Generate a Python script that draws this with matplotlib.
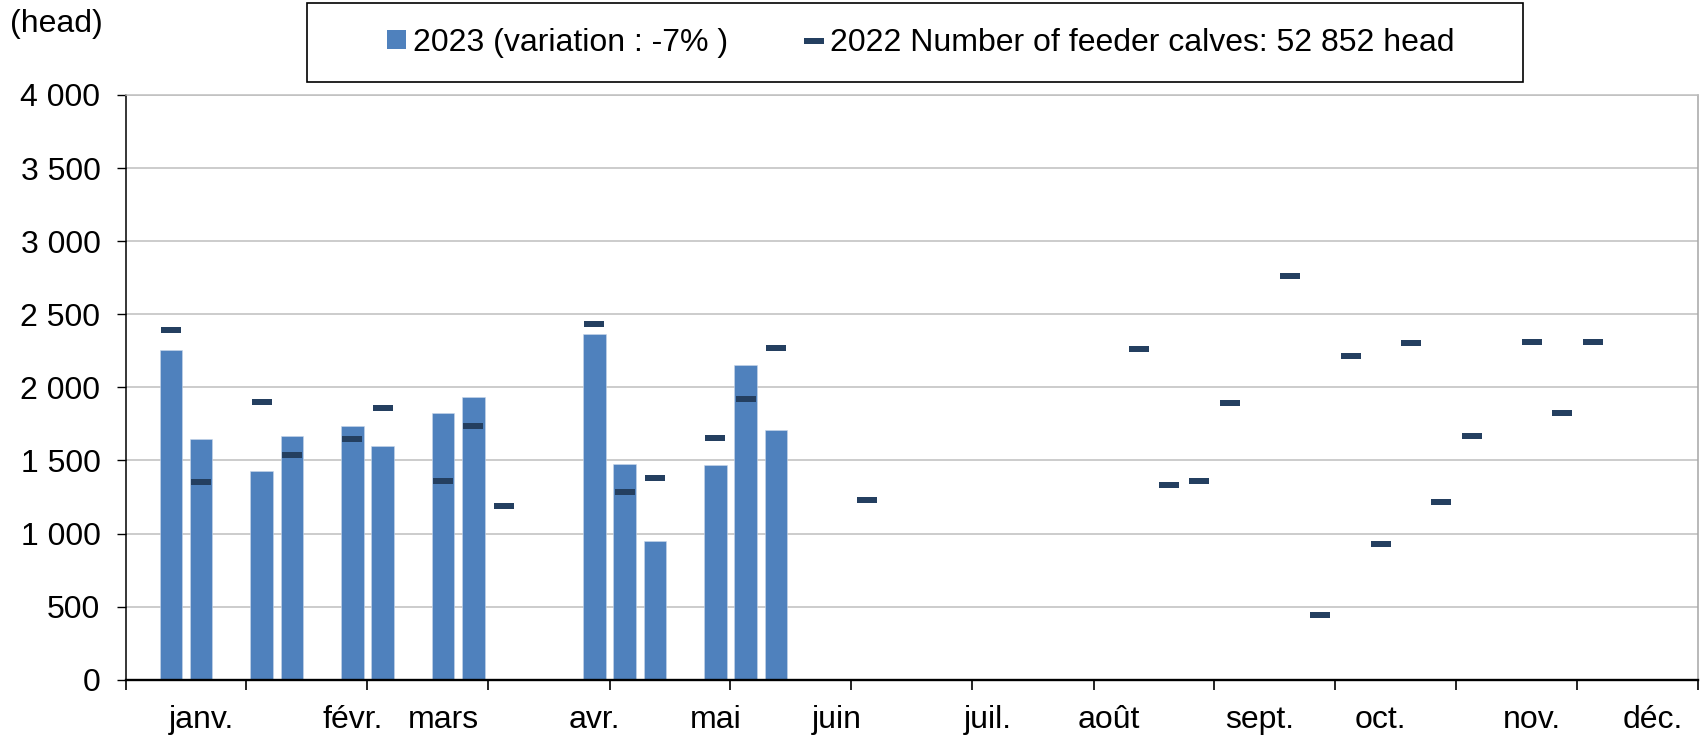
import matplotlib
matplotlib.use("Agg")
import matplotlib.pyplot as plt
from matplotlib.ticker import FixedLocator, FuncFormatter, MultipleLocator
from matplotlib.patches import Rectangle, Patch
from matplotlib.lines import Line2D
import numpy as np

plt.rcParams['font.family'] = ['Liberation Sans', 'DejaVu Sans']

# ---- data ----
weeks_2023 = [2, 3, 5, 6, 8, 9, 11, 12, 16, 17, 18, 20, 21, 22]
values_2023 = [2257, 1649, 1426, 1665, 1733, 1599, 1822, 1936, 2362, 1476, 948, 1467, 2155, 1706]

weeks_2022 = [2, 3, 5, 6, 8, 9, 11, 12, 13, 16, 17, 18, 20, 21, 22, 25,
              34, 35, 36, 37, 39, 40, 41, 42, 43, 44, 45, 47, 48, 49]
values_2022 = [2389, 1353, 1900, 1538, 1649, 1859, 1358, 1736, 1185, 2433, 1282, 1380,
               1656, 1920, 2267, 1228, 2262, 1333, 1358, 1890, 2765, 445, 2212, 929,
               2300, 1217, 1667, 2312, 1822, 2313]

month_labels = ['janv.', 'févr.', 'mars', 'avr.', 'mai', 'juin',
                'juil.', 'août', 'sept.', 'oct.', 'nov.', 'déc.']
month_label_weeks = [3, 8, 11, 16, 20, 24, 29, 33, 38, 42, 47, 51]

label_2023 = '2023 (variation : -7% )'
label_2022 = '2022 Number of feeder calves: 52 852 head'

BAR_COLOR = '#4F81BD'
MARK_COLOR = '#243F60'
FS = 23

W, H = 1706, 737
fig = plt.figure(figsize=(W / 100, H / 100), dpi=100)
ax = fig.add_axes([125.5 / W, 1 - 679.7 / H, (1698.5 - 125.5) / W, (679.7 - 95.0) / H])

ax.bar(weeks_2023, values_2023, width=0.75, color=BAR_COLOR, zorder=2,
       edgecolor='#C9D7EA', linewidth=0.4)

dash = [(-1, -0.26), (1, -0.26), (1, 0.26), (-1, 0.26), (-1, -0.26)]
ax.plot(weeks_2022, values_2022, linestyle='none', marker=dash, markersize=14.6,
        markerfacecolor=MARK_COLOR, markeredgewidth=0, zorder=3)

ax.set_xlim(0.5, 52.5)
ax.set_ylim(0, 4000)

# y axis
ax.yaxis.set_major_locator(MultipleLocator(500))
ax.yaxis.set_major_formatter(FuncFormatter(lambda v, p: f"{int(v):,}".replace(",", " ")))
ax.tick_params(axis='y', which='major', direction='out', length=6.5, width=1.0,
               pad=11.5, labelsize=FS, colors='black')
ax.grid(axis='y', color='#BFBFBF', linewidth=1.1, zorder=0)
ax.set_axisbelow(True)

# x axis
ax.xaxis.set_major_locator(FixedLocator(np.arange(0.5, 53, 4)))
ax.xaxis.set_major_formatter(FuncFormatter(lambda v, p: ''))
ax.xaxis.set_minor_locator(FixedLocator(month_label_weeks))
ax.set_xticklabels(month_labels, minor=True)
ax.tick_params(axis='x', which='major', direction='out', length=7, width=1.2)
ax.tick_params(axis='x', which='minor', length=0, pad=18.5, labelsize=FS)

ax.spines['left'].set_color('black')
ax.spines['left'].set_linewidth(1.1)
ax.spines['bottom'].set_color('black')
ax.spines['bottom'].set_linewidth(1.7)
ax.spines['top'].set_color('#BFBFBF')
ax.spines['top'].set_linewidth(1.1)
ax.spines['right'].set_color('#A6A6A6')
ax.spines['right'].set_linewidth(1.1)

# unit label
fig.text(10 / W, 1 - 24 / H, '(head)', fontsize=FS, ha='left', va='center')

# legend box
fig.patches.append(Rectangle((307 / W, 1 - 81.6 / H), (1523 - 307) / W, (81.6 - 2.5) / H,
                             transform=fig.transFigure, fill=False, edgecolor='black',
                             linewidth=1.2))
h1 = Patch(facecolor=BAR_COLOR, edgecolor='none')
h2 = Line2D([], [], linestyle='none', marker=dash, markersize=15,
            markerfacecolor=MARK_COLOR, markeredgewidth=0)
leg1 = fig.legend([h1], [label_2023], loc='center left',
                  bbox_to_anchor=(387 / W, 1 - 43 / H), frameon=False,
                  fontsize=FS, handlelength=0.6, handleheight=0.52,
                  handletextpad=0.22, borderpad=0, borderaxespad=0)
leg2 = fig.legend([h2], [label_2022], loc='center left',
                  bbox_to_anchor=(803 / W, 1 - 43 / H), frameon=False,
                  fontsize=FS, handlelength=0.66, handleheight=0.52,
                  handletextpad=0.2, borderpad=0, borderaxespad=0)

fig.savefig('out.png', dpi=100)
